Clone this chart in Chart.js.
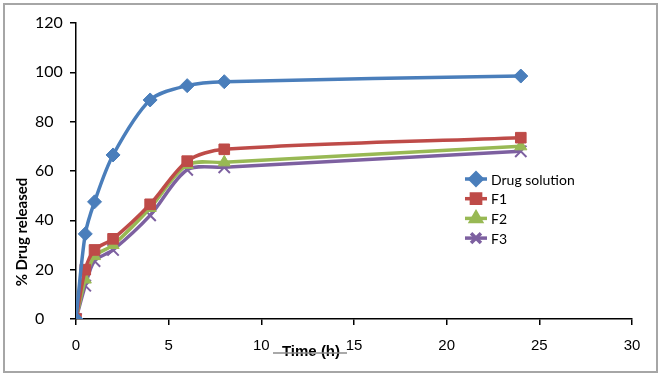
<!DOCTYPE html>
<html>
<head>
<meta charset="utf-8">
<script src="https://cdn.jsdelivr.net/npm/chart.js@4"></script>
<style>
  html, body { margin: 0; padding: 0; background: #fff; }
  #wrap { width: 665px; height: 377px; position: relative; }
</style>
</head>
<body>
<div id="wrap"><canvas id="releaseChart"></canvas></div>
<script>
// Time points (h)
var times = [0, 0.5, 1, 2, 4, 6, 8, 24];

// % drug released
var drugSolution = [0, 34.5, 47.5, 66.5, 88.8, 94.6, 96.2, 98.5];
var f1 = [0, 20, 28, 32.5, 46.5, 64, 68.8, 73.5];
var f2 = [0, 16, 25.5, 30, 45, 62.5, 63.5, 70];
var f3 = [0, 13.5, 23.5, 28, 42, 60.5, 61.5, 68];

var seriesNames = ["Drug solution", "F1", "F2", "F3"];
var xTicks = [0, 5, 10, 15, 20, 25, 30];
var yTicks = [0, 20, 40, 60, 80, 100, 120];

function toPoints(values) {
  return times.map(function (t, i) {
    return { x: t, y: values[i] };
  });
}

var styles = [
  { color: "#4a7ebb", point: "rectRot", radius: 7 },
  { color: "#be4b48", point: "rect", radius: 7.5 },
  { color: "#98b954", point: "triangle", radius: 7 },
  { color: "#7d60a0", point: "crossRot", radius: 8 },
];

var allValues = [drugSolution, f1, f2, f3];

var datasets = allValues.map(function (vals, i) {
  var s = styles[i];
  return {
    label: seriesNames[i],
    data: toPoints(vals),
    borderColor: s.color,
    backgroundColor: s.color,
    borderWidth: 3.5,
    pointStyle: s.point,
    pointRadius: s.radius,
    pointBorderWidth: s.point === "crossRot" ? 2 : 1,
    pointBorderColor: s.color,
    pointBackgroundColor: s.color,
    tension: 0.3,
    fill: false,
  };
});

// draws frame, axis titles and legend
var decorPlugin = {
  id: "decor",
  beforeDraw: function (chart) {
    var c = chart.ctx;
    c.save();
    c.fillStyle = "#fff";
    c.fillRect(0, 0, chart.width, chart.height);
    c.strokeStyle = "#a6a6a6";
    c.lineWidth = 2;
    c.strokeRect(4, 4, 653, 368);
    c.restore();
  },
  afterDraw: function (chart) {
    var c = chart.ctx;
    c.save();
    // y title
    c.translate(22, 232);
    c.rotate(-Math.PI / 2);
    c.fillStyle = "#000";
    c.font = "bold 15px Lato, 'Open Sans', sans-serif";
    c.textAlign = "center";
    c.textBaseline = "middle";
    c.fillText("% Drug released", 0, 0);
    c.restore();

    c.save();
    c.fillStyle = "#000";
    c.font = "bold 15px 'Liberation Sans', Arial, sans-serif";
    c.textAlign = "center";
    c.textBaseline = "middle";
    c.fillText("Time (h)", 311, 352);
    c.strokeStyle = "#8c8c8c";
    c.lineWidth = 1.5;
    c.beginPath();
    c.moveTo(273, 353);
    c.lineTo(347, 353);
    c.stroke();

    // legend
    var lx = 465, ly = 179, gap = 19.7;
    c.font = "14px Lato, 'Open Sans', sans-serif";
    c.textAlign = "left";
    for (var i = 0; i < seriesNames.length; i++) {
      var s = styles[i];
      var y = ly + i * gap;
      c.strokeStyle = s.color;
      c.lineWidth = 3.5;
      c.beginPath();
      c.moveTo(lx, y);
      c.lineTo(lx + 22, y);
      c.stroke();
      c.fillStyle = s.color;
      Chart.helpers.drawPoint(c, {
        pointStyle: s.point,
        radius: s.radius - 1,
        borderWidth: s.point === "crossRot" ? 2 : 1,
      }, lx + 11, y);
      c.fillStyle = "#000";
      c.fillText(seriesNames[i], lx + 26, y + 1);
    }
    c.restore();
  },
};

var ctx = document.getElementById("releaseChart").getContext("2d");

var releaseChart = new Chart(ctx, {
  type: "line",
  data: { datasets: datasets },
  options: {
    responsive: true,
    maintainAspectRatio: false,
    animation: false,
    layout: { padding: { top: 23, right: 33, left: 35, bottom: 0 } },
    plugins: {
      legend: { display: false },
      tooltip: { enabled: false },
    },
    scales: {
      x: {
        type: "linear",
        min: 0,
        max: 30,
        afterBuildTicks: function (scale) {
          scale.ticks = xTicks.map(function (v) { return { value: v }; });
        },
        afterFit: function (scale) { scale.height = 58; },
        grid: {
          display: true,
          drawOnChartArea: false,
          drawTicks: true,
          tickLength: 6,
          color: "#000",
          lineWidth: 1.5,
        },
        border: { display: true, color: "#000", width: 1.5 },
        ticks: {
          color: "#000",
          font: { family: "'Liberation Sans', Arial, sans-serif", size: 15 },
          padding: 12,
          maxRotation: 0,
        },
      },
      y: {
        min: 0,
        max: 120,
        afterBuildTicks: function (scale) {
          scale.ticks = yTicks.map(function (v) { return { value: v }; });
        },
        afterFit: function (scale) { scale.width = 41; },
        grid: {
          display: true,
          drawOnChartArea: false,
          drawTicks: true,
          tickLength: 6,
          color: "#000",
          lineWidth: 1.5,
        },
        border: { display: true, color: "#000", width: 1.5 },
        ticks: {
          color: "#000",
          font: { family: "Lato, 'Open Sans', sans-serif", size: 16 },
          padding: 4,
          crossAlign: "far",
        },
      },
    },
  },
  plugins: [decorPlugin],
});
</script>
</body>
</html>
